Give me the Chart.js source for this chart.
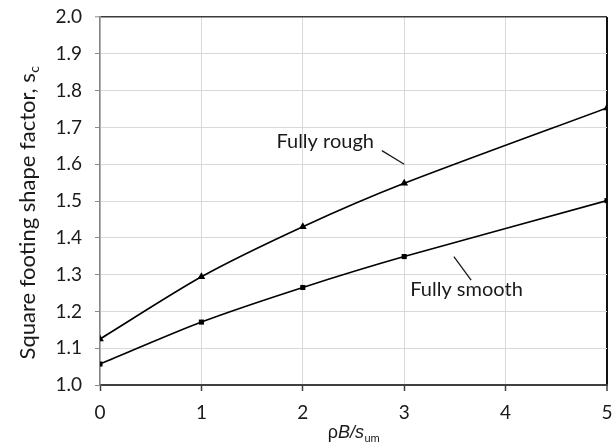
<!DOCTYPE html>
<html>
<head>
<meta charset="utf-8">
<script src="https://cdn.jsdelivr.net/npm/chart.js@4/dist/chart.umd.min.js"></script>
<style>
  html, body { margin: 0; padding: 0; background: #ffffff; }
  canvas { display: block; }
</style>
</head>
<body>
<canvas id="chart" width="614" height="444"></canvas>
<script>
// Normalised footing stiffness rho*B/s_um
const xValues = [0, 1, 2, 3, 5];
// Shape factor s_c for a square footing
const fullyRough = [1.125, 1.294, 1.430, 1.548, 1.753];
const fullySmooth = [1.057, 1.171, 1.265, 1.349, 1.501];
const seriesNames = ['Fully rough', 'Fully smooth'];

// Axis ranges and tick spacing
const xRange = [0, 5];
const xStep = 1;
const yRange = [1.0, 2.0];
const yStep = 0.1;

// Callout labels: text anchor and leader line, in data units
const callouts = [
  { text: 'Fully rough', at: [1.74, 1.644], from: [2.78, 1.637], to: [3.0, 1.600] },
  { text: 'Fully smooth', at: [3.06, 1.242], from: [3.49, 1.349], to: [3.66, 1.285] }
];

const TICK_FONT = { family: 'Lato, "Open Sans", sans-serif', size: 19 };
const LABEL_FONT = '20px Lato, "Open Sans", sans-serif';

function pointsOf(ys) {
  return xValues.map((x, i) => ({ x: x, y: ys[i] }));
}

// Axis titles with sub/italic parts and the callout labels
const textLayer = {
  id: 'textLayer',
  afterDraw(chart) {
    const ctx = chart.ctx;
    const xs = chart.scales.x, ys = chart.scales.y;
    const area = chart.chartArea;
    ctx.save();
    ctx.fillStyle = '#1a1a1a';
    ctx.strokeStyle = '#1a1a1a';
    ctx.lineWidth = 1.3;

    // callouts
    ctx.font = LABEL_FONT;
    ctx.textBaseline = 'alphabetic';
    ctx.textAlign = 'left';
    callouts.forEach(c => {
      ctx.fillText(c.text, xs.getPixelForValue(c.at[0]), ys.getPixelForValue(c.at[1]));
      ctx.beginPath();
      ctx.moveTo(xs.getPixelForValue(c.from[0]), ys.getPixelForValue(c.from[1]));
      ctx.lineTo(xs.getPixelForValue(c.to[0]), ys.getPixelForValue(c.to[1]));
      ctx.stroke();
    });

    // y-axis title: "Square footing shape factor, s" + subscript c
    const yMain = 'Square footing shape factor, s';
    const yMainFont = '22px Lato, "Open Sans", sans-serif';
    const ySubFont = '14px Lato, "Open Sans", sans-serif';
    ctx.font = yMainFont;
    const wMain = ctx.measureText(yMain).width;
    ctx.font = ySubFont;
    const wSub = ctx.measureText('c').width;
    const total = wMain + wSub;
    ctx.save();
    ctx.translate(35, (area.top + area.bottom) / 2 + 12);
    ctx.rotate(-Math.PI / 2);
    ctx.textAlign = 'left';
    ctx.font = yMainFont;
    ctx.fillText(yMain, -total / 2, 0);
    ctx.font = ySubFont;
    ctx.fillText('c', -total / 2 + wMain + 0.5, 4);
    ctx.restore();

    // x-axis title: rho B / s_um
    const parts = [
      { t: '\u03C1', f: '18px "Liberation Sans", Arial, sans-serif', dy: 0 },
      { t: 'B/s', f: 'italic 18px "Liberation Sans", Arial, sans-serif', dy: 0 },
      { t: 'um', f: '11px "Liberation Sans", Arial, sans-serif', dy: 4 }
    ];
    let width = 0;
    parts.forEach(p => { ctx.font = p.f; p.w = ctx.measureText(p.t).width; width += p.w; });
    let x = (area.left + area.right) / 2 - width / 2;
    const base = 438;
    parts.forEach(p => {
      ctx.font = p.f;
      ctx.fillText(p.t, x, base + p.dy);
      x += p.w + (p.t === 'B/s' ? 0.5 : 0);
    });
    ctx.restore();
  }
};

new Chart(document.getElementById('chart'), {
  type: 'line',
  data: {
    datasets: [
      {
        label: seriesNames[0],
        data: pointsOf(fullyRough),
        borderColor: '#000000',
        backgroundColor: '#000000',
        borderWidth: 1.6,
        pointStyle: 'triangle',
        pointRadius: 4.5,
        pointBorderWidth: 0,
        tension: 0.25
      },
      {
        label: seriesNames[1],
        data: pointsOf(fullySmooth),
        borderColor: '#000000',
        backgroundColor: '#000000',
        borderWidth: 1.6,
        pointStyle: 'rect',
        pointRadius: 3.6,
        pointBorderWidth: 0,
        tension: 0.25
      }
    ]
  },
  options: {
    responsive: false,
    animation: false,
    events: [],
    layout: { autoPadding: false, padding: { top: 17, right: 7, bottom: 0, left: 0 } },
    plugins: {
      legend: { display: false },
      tooltip: { enabled: false },
      title: { display: false }
    },
    scales: {
      x: {
        type: 'linear',
        min: xRange[0],
        max: xRange[1],
        ticks: {
          stepSize: xStep,
          color: '#1a1a1a',
          font: TICK_FONT,
          padding: 10
        },
        grid: {
          color: c => (c.tick && c.tick.value === xRange[1]) ? '#111111' : '#d9d9d9',
          lineWidth: c => (c.tick && c.tick.value === xRange[1]) ? 2 : 1,
          tickColor: '#404040',
          tickWidth: 1.5,
          tickLength: 6
        },
        border: { color: '#404040', width: 2 },
        afterFit: s => { s.height = 59; s.paddingRight = 0; }
      },
      y: {
        type: 'linear',
        min: yRange[0],
        max: yRange[1],
        ticks: {
          stepSize: yStep,
          color: '#1a1a1a',
          font: TICK_FONT,
          padding: 13,
          callback: v => Number(v).toFixed(1)
        },
        grid: {
          color: c => (c.tick && Math.abs(c.tick.value - yRange[1]) < 1e-9) ? '#3a3a3a' : '#d9d9d9',
          lineWidth: c => (c.tick && Math.abs(c.tick.value - yRange[1]) < 1e-9) ? 1.6 : 1,
          tickColor: '#8a8a8a',
          tickWidth: 1,
          tickLength: 5
        },
        border: { color: '#868686', width: 1.5 },
        afterFit: s => { s.width = 100; s.paddingTop = 0; }
      }
    }
  },
  plugins: [textLayer]
});
</script>
</body>
</html>
